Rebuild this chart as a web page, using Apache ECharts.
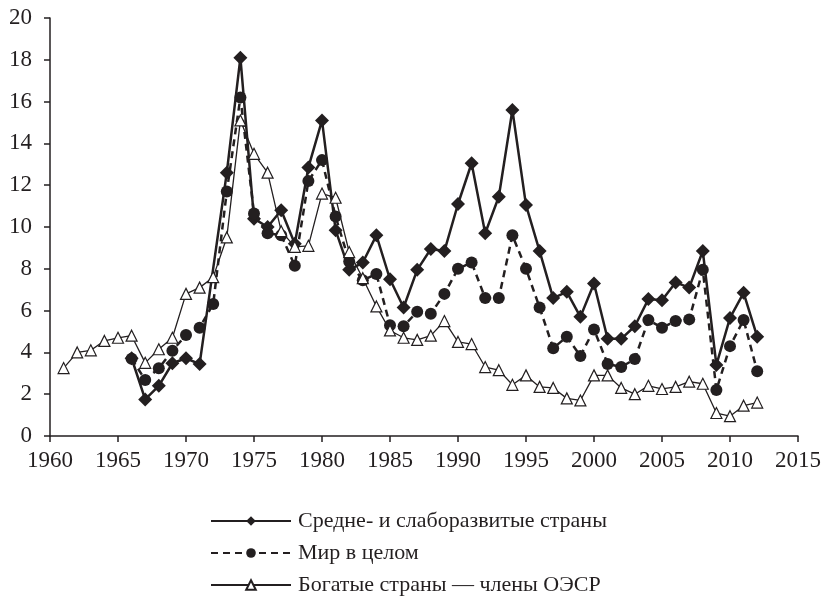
<!DOCTYPE html>
<html lang="ru">
<head>
    <meta charset="UTF-8">
    <script src="https://cdn.jsdelivr.net/npm/echarts@6/dist/echarts.min.js"></script>
    <title>Инфляция</title>
    <style>
        html, body { margin: 0; padding: 0; background: #fff; }
        #main { width: 827px; height: 602px; }
    </style>
</head>
<body>
<div id="main"></div>
<script type="text/javascript">
    // годы
    var richYears = [];
    for (var y = 1961; y <= 2012; y++) richYears.push(y);
    var devYears = [];
    for (var y2 = 1966; y2 <= 2012; y2++) devYears.push(y2);

    var seriesNames = ['Средне- и слаборазвитые страны', 'Мир в целом', 'Богатые страны — члены ОЭСР'];

    // Средне- и слаборазвитые страны, 1966–2012
    var devValues = [3.72, 1.75, 2.4, 3.48, 3.72, 3.44, null, 12.6, 18.1, 10.4,
        10.0, 10.8, 9.2, 12.85, 15.1, 9.85, 7.95, 8.3, 9.6, 7.5,
        6.15, 7.95, 8.95, 8.85, 11.1, 13.05, 9.7, 11.45, 15.6, 11.05,
        8.85, 6.6, 6.9, 5.7, 7.3, 4.65, 4.65, 5.25, 6.55, 6.5,
        7.35, 7.1, 8.85, 3.4, 5.65, 6.85, 4.75];

    // Мир в целом, 1966–2012
    var worldValues = [3.7, 2.68, 3.24, 4.08, 4.83, 5.18, 6.32, 11.7, 16.2, 10.65,
        9.7, 9.6, 8.15, 12.2, 13.2, 10.5, 8.35, 7.45, 7.75, 5.3,
        5.25, 5.95, 5.85, 6.8, 8.0, 8.3, 6.6, 6.6, 9.6, 8.0,
        6.15, 4.2, 4.75, 3.83, 5.1, 3.45, 3.3, 3.68, 5.55, 5.18,
        5.5, 5.58, 7.95, 2.2, 4.3, 5.55, 3.1];

    // Богатые страны — члены ОЭСР, 1961–2012
    var richValues = [3.25, 4.0, 4.1, 4.55, 4.7, 4.8, 3.5, 4.15, 4.7, 6.8,
        7.1, 7.6, 9.5, 15.1, 13.5, 12.6, 9.8, 9.05, 9.1, 11.6,
        11.4, 8.8, 7.55, 6.2, 5.05, 4.7, 4.6, 4.8, 5.5, 4.5,
        4.4, 3.3, 3.15, 2.45, 2.9, 2.35, 2.3, 1.8, 1.7, 2.9,
        2.9, 2.3, 2.0, 2.4, 2.25, 2.35, 2.6, 2.5, 1.1, 0.95,
        1.45, 1.6];

    function pairs(years, values) {
        return years.map(function (yr, i) { return [yr, values[i]]; });
    }

    var ink = '#231f20';
    var font = '"Liberation Serif", "Times New Roman", serif';

    var myChart = echarts.init(document.getElementById('main'));
    var option = {
        animation: false,
        textStyle: { fontFamily: font, color: ink },
        grid: { left: 50, right: 29, top: 18, bottom: 166 },
        legend: {
            orient: 'vertical',
            left: 210,
            top: 510,
            height: 110,
            padding: 0,
            itemWidth: 80,
            itemHeight: 12,
            itemGap: 10,
            textStyle: { fontFamily: font, fontSize: 22, color: ink, padding: [0, 0, 0, 2] },
            data: seriesNames
        },
        xAxis: {
            type: 'value',
            min: 1960,
            max: 2015,
            interval: 5,
            axisLine: { lineStyle: { color: ink, width: 1.5 } },
            axisTick: { show: true, inside: false, length: 6, lineStyle: { color: ink, width: 1.5 } },
            axisLabel: {
                fontFamily: font, fontSize: 23, color: ink, margin: 13,
                formatter: function (v) { return String(v); }
            },
            splitLine: { show: false }
        },
        yAxis: {
            type: 'value',
            min: 0,
            max: 20,
            interval: 2,
            axisLine: { show: true, lineStyle: { color: ink, width: 1.5 } },
            axisTick: { show: true, length: 6, lineStyle: { color: ink, width: 1.5 } },
            axisLabel: { fontFamily: font, fontSize: 23, color: ink, margin: 18 },
            splitLine: { show: false }
        },
        series: [
            {
                name: seriesNames[0],
                type: 'line',
                data: pairs(devYears, devValues),
                connectNulls: true,
                symbol: 'diamond',
                symbolSize: 14,
                showAllSymbol: true,
                lineStyle: { color: ink, width: 2.5 },
                itemStyle: { color: ink, borderColor: ink, borderWidth: 0 }
            },
            {
                name: seriesNames[1],
                type: 'line',
                data: pairs(devYears, worldValues),
                symbol: 'circle',
                symbolSize: 12,
                showAllSymbol: true,
                lineStyle: { color: ink, width: 2.5, type: [7, 5] },
                itemStyle: { color: ink, borderColor: ink, borderWidth: 0 }
            },
            {
                name: seriesNames[2],
                type: 'line',
                data: pairs(richYears, richValues),
                symbol: 'triangle',
                symbolSize: 11,
                showAllSymbol: true,
                lineStyle: { color: ink, width: 1.3 },
                itemStyle: { color: '#fff', borderColor: ink, borderWidth: 1.2 }
            }
        ]
    };
    myChart.setOption(option);
</script>
</body>
</html>
